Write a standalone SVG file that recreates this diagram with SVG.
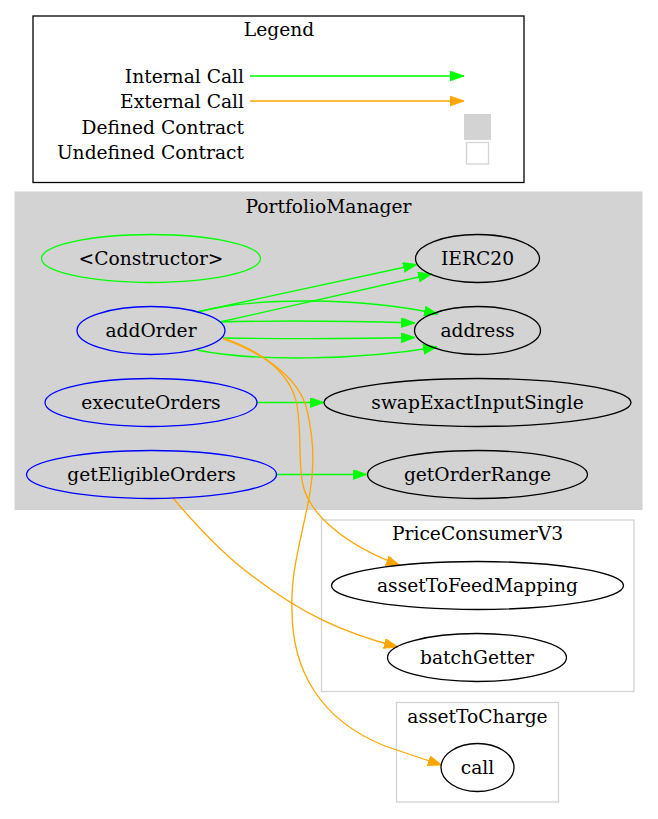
<svg xmlns="http://www.w3.org/2000/svg" width="658" height="819" viewBox="0 0 658 819">
<style>
text{font-family:"DejaVu Serif","Liberation Serif",serif;font-size:18.67px;fill:#000}
.c{text-anchor:middle}
.e{text-anchor:end}
.n{fill:none;stroke:#000;stroke-width:1.3}
.b{stroke:#0000ff}
.g{stroke:#00ff00}
.ig{fill:none;stroke:#00ff00;stroke-width:1.3;marker-end:url(#ag)}
.eo{fill:none;stroke:#ffa500;stroke-width:1.3;marker-end:url(#ao)}
</style>
<defs>
<marker id="ag" markerUnits="userSpaceOnUse" markerWidth="15" markerHeight="11" refX="14" refY="5" orient="auto"><path d="M0,0 L14,5 L0,10 z" fill="#00ff00" stroke="#00ff00" stroke-width="0.8"/></marker>
<marker id="ao" markerUnits="userSpaceOnUse" markerWidth="15" markerHeight="11" refX="14" refY="5" orient="auto"><path d="M0,0 L14,5 L0,10 z" fill="#ffa500" stroke="#ffa500" stroke-width="0.8"/></marker>
</defs>
<rect width="658" height="819" fill="#fff"/>
<g id="legend">
<rect x="33" y="16" width="491" height="166.5" fill="#fff" stroke="#000" stroke-width="1.3"/>
<text class="c" x="279" y="36">Legend</text>
<text class="e" x="244" y="82.5">Internal Call</text>
<text class="e" x="244" y="108">External Call</text>
<text class="e" x="244" y="133.5">Defined Contract</text>
<text class="e" x="244" y="159">Undefined Contract</text>
<path class="ig" d="M250,76 L464,76"/>
<path class="eo" d="M250,101 L464,101"/>
<rect x="464.5" y="114.5" width="26" height="25" fill="#d3d3d3" stroke="#d3d3d3"/>
<rect x="466.5" y="142.5" width="22" height="21.5" fill="#fff" stroke="#d3d3d3" stroke-width="1.3"/>
</g>
<g id="cluster_PortfolioManager">
<rect x="15" y="192" width="627" height="317.5" fill="#d3d3d3" stroke="#d3d3d3"/>
<text class="c" x="328.5" y="213">PortfolioManager</text>
</g>
<g id="cluster_PriceConsumerV3">
<rect x="321.5" y="520" width="312.5" height="171.5" fill="#fff" stroke="#d3d3d3" stroke-width="1.3"/>
<text class="c" x="477.5" y="540">PriceConsumerV3</text>
</g>
<g id="cluster_assetToCharge">
<rect x="396.5" y="702.5" width="162" height="99.5" fill="#fff" stroke="#d3d3d3" stroke-width="1.3"/>
<text class="c" x="477.5" y="722.5">assetToCharge</text>
</g>
<g id="edges">
<path class="ig" d="M197,312 L417,264.5"/>
<path class="ig" d="M220,322 L432,274"/>
<path class="ig" d="M197,312 C 255,297 360,297 438,314"/>
<path class="ig" d="M220,322 C 290,320 350,321 415,323"/>
<path class="ig" d="M223,338 C 290,339 350,339 415,337.5"/>
<path class="ig" d="M197,350 C 255,362 360,360 437,347"/>
<path class="ig" d="M257,402.5 L324,402.5"/>
<path class="ig" d="M276.5,474.5 L367,474.5"/>
<path class="eo" d="M223,338 C 265,352 291,375 297,405 C 302,435 298,465 303,485 C 310,515 345,545 400,565.5"/>
<path class="eo" d="M223,339 C 268,355 300,380 307,410 C 314,440 314,470 310,492 C 304,530 290,570 292,610 C 292,670 320,720 385,746 Q 420,758 442,765"/>
<path class="eo" d="M173,498 C 200,530 230,560 255,578 C 300,612 340,632 398,647"/>
</g>
<g id="node_constructor">
<ellipse class="n g" cx="151" cy="258.5" rx="109.5" ry="24"/>
<text class="c" x="151" y="264.5">&lt;Constructor&gt;</text>
</g>
<g id="node_addOrder">
<ellipse class="n b" cx="151" cy="330.5" rx="74" ry="24"/>
<text class="c" x="151" y="336.5">addOrder</text>
</g>
<g id="node_executeOrders">
<ellipse class="n b" cx="151" cy="402.5" rx="106" ry="24"/>
<text class="c" x="151" y="408.5">executeOrders</text>
</g>
<g id="node_getEligibleOrders">
<ellipse class="n b" cx="151.5" cy="474.5" rx="125" ry="24"/>
<text class="c" x="151.5" y="480.5">getEligibleOrders</text>
</g>
<g id="node_IERC20">
<ellipse class="n" cx="477.5" cy="258.5" rx="62" ry="24"/>
<text class="c" x="477.5" y="264.5">IERC20</text>
</g>
<g id="node_address">
<ellipse class="n" cx="477.5" cy="330.5" rx="63" ry="24"/>
<text class="c" x="477.5" y="336.5">address</text>
</g>
<g id="node_swapExactInputSingle">
<ellipse class="n" cx="477.5" cy="402.5" rx="153.5" ry="24"/>
<text class="c" x="477.5" y="408.5">swapExactInputSingle</text>
</g>
<g id="node_getOrderRange">
<ellipse class="n" cx="477.5" cy="474.5" rx="110" ry="24"/>
<text class="c" x="477.5" y="480.5">getOrderRange</text>
</g>
<g id="node_assetToFeedMapping">
<ellipse class="n" cx="477.5" cy="585.5" rx="146" ry="24"/>
<text class="c" x="477.5" y="591.5">assetToFeedMapping</text>
</g>
<g id="node_batchGetter">
<ellipse class="n" cx="477" cy="657.5" rx="89.5" ry="24"/>
<text class="c" x="477" y="663.5">batchGetter</text>
</g>
<g id="node_call">
<ellipse class="n" cx="477.5" cy="767.5" rx="36.5" ry="24"/>
<text class="c" x="477.5" y="773.5">call</text>
</g>
</svg>
